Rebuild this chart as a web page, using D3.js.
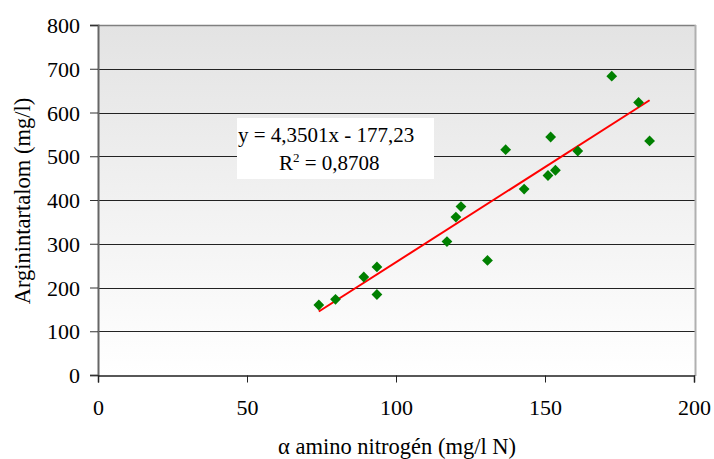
<!DOCTYPE html>
<html>
<head>
<meta charset="utf-8">
<script src="https://cdn.jsdelivr.net/npm/d3@7"></script>
<style>
  body { margin: 0; background: #fff; }
  text { font-family: "Liberation Serif", "Times New Roman", serif; fill: #000; }
</style>
</head>
<body>
<svg id="chart" width="714" height="459"></svg>
<script>
// data
let xValues = [74.1, 79.7, 89.2, 93.6, 93.6, 117.1, 120.1, 121.8, 130.7, 136.8, 143.0, 151.0, 151.9, 153.5, 161.0, 172.4, 181.4, 185.1]
let yValues = [160, 173, 224, 247, 184, 305, 361, 385, 262, 515, 425, 456, 544, 468, 512, 683, 623, 535]
let xTicks = [0, 50, 100, 150, 200]
let yTicks = [0, 100, 200, 300, 400, 500, 600, 700, 800]
let slope = 4.3501
let intercept = -177.23
let eqLines = ['y = 4,3501x - 177,23', 'R² = 0,8708']

let serif = '"Liberation Serif", "Times New Roman", serif'
let svg = d3.select('#chart')
let pLeft = 98, pRight = 695, pTop = 25, pBottom = 375

let x = d3.scaleLinear().domain([0, 200]).range([pLeft, pRight - 1])
let y = d3.scaleLinear().domain([0, 800]).range([pBottom, pTop])

//background gradient
let grad = svg.append('defs').append('linearGradient')
  .attr('id', 'bg').attr('x1', 0).attr('y1', 0).attr('x2', 0).attr('y2', 1)
grad.append('stop').attr('offset', '0%').attr('stop-color', '#e3e3e3')
grad.append('stop').attr('offset', '100%').attr('stop-color', '#ffffff')

svg.append('rect')
  .attr('x', pLeft).attr('y', pTop)
  .attr('width', pRight - pLeft).attr('height', pBottom - pTop)
  .attr('fill', 'url(#bg)')

//grid
svg.append('g').selectAll('line')
  .data(yTicks.filter(d => d > 0 && d < 800))
  .enter().append('line')
  .attr('x1', pLeft).attr('x2', pRight)
  .attr('y1', d => Math.round(y(d)) + 0.5).attr('y2', d => Math.round(y(d)) + 0.5)
  .attr('stroke', '#222').attr('stroke-width', 1)

//frame: top and right
svg.append('line').attr('x1', pLeft).attr('x2', pRight + 1)
  .attr('y1', pTop + 0.5).attr('y2', pTop + 0.5)
  .attr('stroke', '#808080').attr('stroke-width', 1.5)
svg.append('line').attr('x1', pRight + 0.5).attr('x2', pRight + 0.5)
  .attr('y1', pTop).attr('y2', pBottom + 1)
  .attr('stroke', '#b0b0b0').attr('stroke-width', 2)

//axes
let yAxis = d3.axisLeft(y).tickValues(yTicks).tickSize(8).tickPadding(10)
let gy = svg.append('g').attr('transform', `translate(${pLeft},0)`).call(yAxis)
gy.select('.domain').attr('stroke', '#666').attr('stroke-width', 2)
gy.selectAll('.tick line').attr('stroke', '#333')
gy.selectAll('.tick text').style('font-size', '22px').style('font-family', serif).attr('dy', '0.35em')

let xAxis = d3.axisBottom(x).tickValues(xTicks).tickSize(7).tickPadding(17)
let gx = svg.append('g').attr('transform', `translate(0,${pBottom + 0.5})`).call(xAxis)
gx.select('.domain').attr('stroke', '#222').attr('stroke-width', 1.5)
gx.selectAll('.tick line').attr('stroke', '#222')
gx.selectAll('.tick text').style('font-size', '22px').style('font-family', serif)
svg.selectAll('.domain').attr('fill', 'none')

//trend line
let xMin = d3.min(xValues), xMax = d3.max(xValues)
svg.append('line')
  .attr('x1', x(xMin)).attr('y1', y(slope * xMin + intercept))
  .attr('x2', x(xMax)).attr('y2', y(slope * xMax + intercept))
  .attr('stroke', '#ff0000').attr('stroke-width', 2)

//points
let pts = xValues.map((d, i) => ({x: d, y: yValues[i]}))
svg.append('g').selectAll('path')
  .data(pts)
  .enter().append('path')
  .attr('d', d3.symbol().type(d3.symbolSquare).size(58))
  .attr('transform', d => `translate(${x(d.x)},${y(d.y)}) rotate(45)`)
  .attr('fill', '#008000')

//equation label
svg.append('rect')
  .attr('x', 237).attr('y', 118).attr('width', 197).attr('height', 61)
  .attr('fill', '#fff')
svg.append('text').attr('x', 238).attr('y', 142)
  .style('font-size', '21px').text(eqLines[0])
let r2 = svg.append('text').attr('x', 279).attr('y', 170).style('font-size', '21px')
r2.append('tspan').text('R')
r2.append('tspan').attr('dy', -8).style('font-size', '13px').text('2')
r2.append('tspan').attr('dy', 8).text(' = 0,8708')

//axis titles
svg.append('text')
  .attr('transform', 'translate(30,201) rotate(-90)')
  .attr('text-anchor', 'middle')
  .style('font-size', '22.5px')
  .text('Arginintartalom (mg/l)')
svg.append('text')
  .attr('x', 397).attr('y', 454)
  .attr('text-anchor', 'middle')
  .style('font-size', '22.5px')
  .text('α amino nitrogén (mg/l N)')
</script>
</body>
</html>
